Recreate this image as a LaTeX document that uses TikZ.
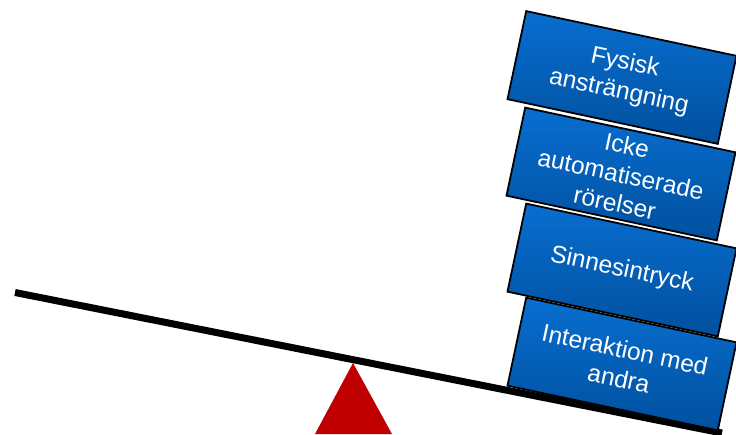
\documentclass[tikz,border=0pt]{standalone}
\usepackage{fontspec}
\setmainfont{Liberation Sans}
\definecolor{boxtop}{RGB}{8,110,208}
\definecolor{boxbot}{RGB}{0,80,158}
\definecolor{pivotred}{RGB}{192,0,0}
\begin{document}
\begin{tikzpicture}[x=1pt,y=-1pt,
  blockbox/.style={draw=black, line width=1.8pt, top color=boxtop, bottom color=boxbot,
    minimum width=215pt, minimum height=90pt, align=center, text=white,
    font=\fontsize{24.5}{29.5}\selectfont, inner sep=0pt, rotate=-12},
  beamline/.style={line width=7pt, black}]
\useasboundingbox (0,0) rectangle (736,434);
% pivot
\coordinate (apex) at (353,363);
\coordinate (baseL) at (315,434);
\coordinate (baseR) at (392,434);
\fill[pivotred] (apex) -- (baseR) -- (baseL) -- cycle;
% beam
\coordinate (beamL) at (15,292.5);
\coordinate (beamR) at (722,433);
\draw[beamline] (beamL) -- (beamR);
% boxes
\node[blockbox] (b4) at (622,364) {Interaktion med\\andra};
\node[blockbox] (b3) at (622,270) {Sinnesintryck};
\node[blockbox] (b2) at (621,174) {Icke\\automatiserade\\rörelser};
\node[blockbox] (b1) at (622,77.5) {Fysisk\\ansträngning};
\end{tikzpicture}
\end{document}
